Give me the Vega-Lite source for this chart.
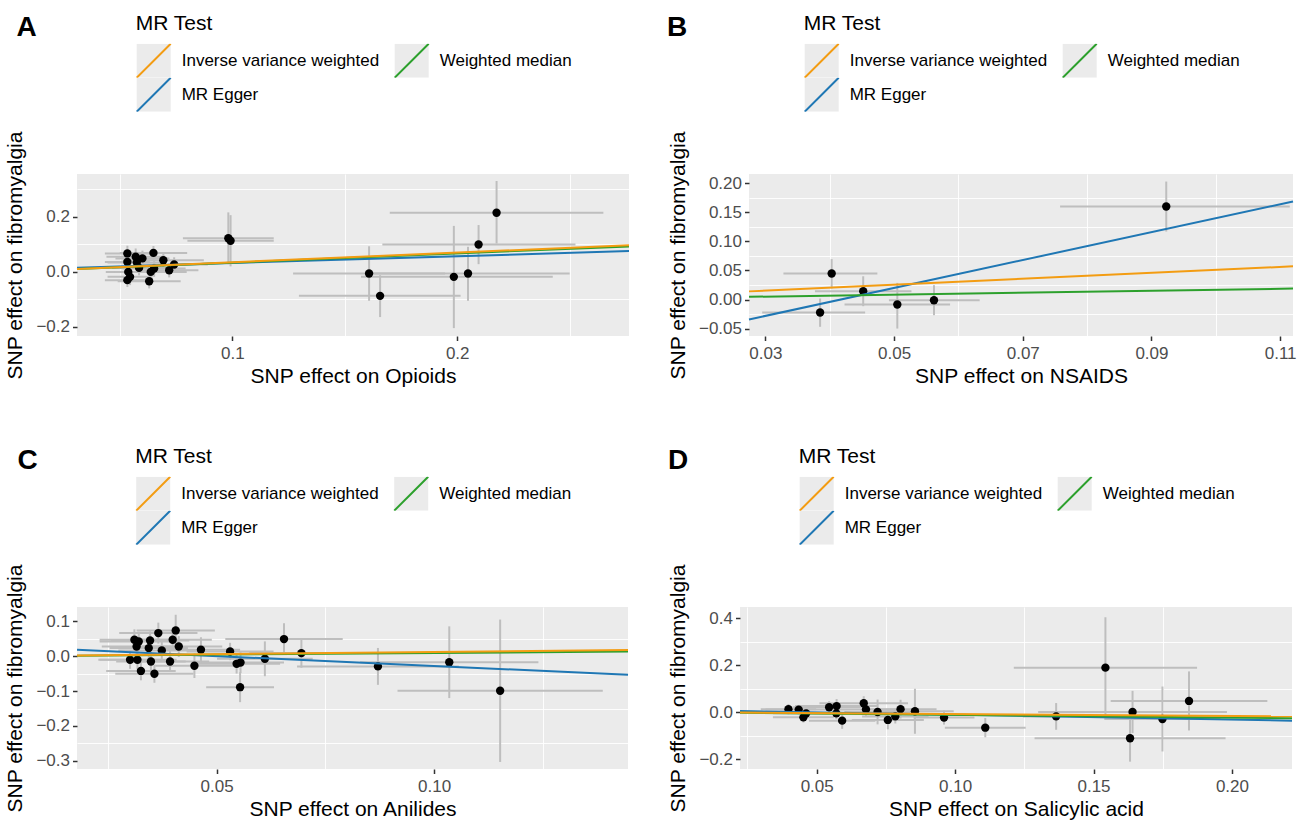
{
"$schema": "https://vega.github.io/schema/vega-lite/v6.json",
"background": "white",
"padding": {"left": 4, "top": 12, "right": 0, "bottom": 0},
"config": {
  "font": "Liberation Sans",
  "view": {"fill": "#EBEBEB", "stroke": null},
  "axis": {"labelFont": "Liberation Sans", "labelFontSize": 17, "labelColor": "#4D4D4D", "titleFont": "Liberation Sans", "titleFontSize": 21, "titleFontWeight": "normal", "titleColor": "#000000", "tickColor": "#333333", "tickSize": 4.5, "tickWidth": 1.5, "domain": false, "grid": true, "gridColor": "#FFFFFF", "gridWidth": 1.8, "labelPadding": 3},
  "axisX": {"titlePadding": 4, "labelPadding": 5},
  "axisY": {"titlePadding": 10},
  "legend": {"orient": "none", "direction": "horizontal", "columns": 2, "symbolSize": 1156, "clipHeight": 34, "labelFont": "Liberation Sans", "labelFontSize": 17, "labelColor": "#000000", "labelOffset": 10, "labelLimit": 400, "columnPadding": 14, "rowPadding": 0, "titleFont": "Liberation Sans", "titleFontSize": 21, "titleFontWeight": "normal", "titleColor": "#000000", "titlePadding": 10, "padding": 0, "symbolStrokeWidth": 2},
  "title": {"font": "Liberation Sans", "fontSize": 28, "fontWeight": "bold", "color": "#000000", "anchor": "start", "frame": "group", "offset": 0, "baseline": "alphabetic", "dy": 33}
},
"datasets": {
  "A_pts": [
    {"x": 0.0533, "y": 0.067, "xlo": 0.0433, "xhi": 0.0633, "ylo": 0.039, "yhi": 0.095},
    {"x": 0.0570, "y": 0.055, "xlo": 0.0440, "xhi": 0.0700, "ylo": 0.025, "yhi": 0.085},
    {"x": 0.0600, "y": 0.049, "xlo": 0.0480, "xhi": 0.0720, "ylo": 0.021, "yhi": 0.077},
    {"x": 0.0649, "y": 0.069, "xlo": 0.0499, "xhi": 0.0799, "ylo": 0.044, "yhi": 0.094},
    {"x": 0.0533, "y": 0.036, "xlo": 0.0433, "xhi": 0.0633, "ylo": 0.006, "yhi": 0.066},
    {"x": 0.0575, "y": 0.034, "xlo": 0.0445, "xhi": 0.0705, "ylo": 0.002, "yhi": 0.066},
    {"x": 0.0693, "y": 0.0425, "xlo": 0.0513, "xhi": 0.0873, "ylo": 0.0145, "yhi": 0.0705},
    {"x": 0.0741, "y": 0.027, "xlo": 0.0591, "xhi": 0.0891, "ylo": 0.001, "yhi": 0.053},
    {"x": 0.0652, "y": 0.012, "xlo": 0.0512, "xhi": 0.0792, "ylo": -0.018, "yhi": 0.042},
    {"x": 0.0585, "y": 0.0145, "xlo": 0.0465, "xhi": 0.0705, "ylo": -0.0125, "yhi": 0.0415},
    {"x": 0.0537, "y": 0.0, "xlo": 0.0437, "xhi": 0.0637, "ylo": -0.029, "yhi": 0.029},
    {"x": 0.0637, "y": 0.0, "xlo": 0.0477, "xhi": 0.0797, "ylo": -0.028, "yhi": 0.028},
    {"x": 0.0719, "y": 0.006, "xlo": 0.0589, "xhi": 0.0849, "ylo": -0.020, "yhi": 0.032},
    {"x": 0.0545, "y": -0.018, "xlo": 0.0445, "xhi": 0.0645, "ylo": -0.048, "yhi": 0.012},
    {"x": 0.0533, "y": -0.030, "xlo": 0.0433, "xhi": 0.0633, "ylo": -0.055, "yhi": -0.005},
    {"x": 0.0630, "y": -0.034, "xlo": 0.0490, "xhi": 0.0770, "ylo": -0.060, "yhi": -0.008},
    {"x": 0.0982, "y": 0.122, "xlo": 0.0780, "xhi": 0.1184, "ylo": 0.028, "yhi": 0.216},
    {"x": 0.0992, "y": 0.113, "xlo": 0.0800, "xhi": 0.1184, "ylo": 0.020, "yhi": 0.206},
    {"x": 0.2175, "y": 0.2145, "xlo": 0.170, "xhi": 0.265, "ylo": 0.103, "yhi": 0.330},
    {"x": 0.2095, "y": 0.0996, "xlo": 0.1667, "xhi": 0.2526, "ylo": 0.028, "yhi": 0.170},
    {"x": 0.1608, "y": -0.006, "xlo": 0.127, "xhi": 0.1946, "ylo": -0.105, "yhi": 0.093},
    {"x": 0.1657, "y": -0.087, "xlo": 0.1296, "xhi": 0.2015, "ylo": -0.164, "yhi": -0.012},
    {"x": 0.1985, "y": -0.018, "xlo": 0.1572, "xhi": 0.2425, "ylo": -0.204, "yhi": 0.167},
    {"x": 0.2048, "y": -0.006, "xlo": 0.1596, "xhi": 0.2500, "ylo": -0.105, "yhi": 0.091}
  ],
  "A_lines": [
    {"method": "MR Egger", "code": "Egger", "x1": 0.0309, "y1": 0.0154, "x2": 0.2764, "y2": 0.0755},
    {"method": "Weighted median", "code": "WM", "x1": 0.0309, "y1": 0.01035, "x2": 0.2764, "y2": 0.0926},
    {"method": "Inverse variance weighted", "code": "IVW", "x1": 0.0309, "y1": 0.0108, "x2": 0.2764, "y2": 0.0967}
  ],
  "B_pts": [
    {"x": 0.0923, "y": 0.160, "xlo": 0.0758, "xhi": 0.1115, "ylo": 0.117, "yhi": 0.203},
    {"x": 0.0403, "y": 0.0448, "xlo": 0.0328, "xhi": 0.0474, "ylo": 0.019, "yhi": 0.0695},
    {"x": 0.0452, "y": 0.0143, "xlo": 0.0377, "xhi": 0.0527, "ylo": -0.0115, "yhi": 0.040},
    {"x": 0.0385, "y": -0.0224, "xlo": 0.0295, "xhi": 0.0455, "ylo": -0.047, "yhi": 0.0017},
    {"x": 0.0505, "y": -0.0086, "xlo": 0.0423, "xhi": 0.0587, "ylo": -0.050, "yhi": 0.0286},
    {"x": 0.0562, "y": -0.0012, "xlo": 0.0492, "xhi": 0.0633, "ylo": -0.027, "yhi": 0.0247}
  ],
  "B_lines": [
    {"method": "MR Egger", "code": "Egger", "x1": 0.02745, "y1": -0.0343, "x2": 0.1120, "y2": 0.1688},
    {"method": "Weighted median", "code": "WM", "x1": 0.02745, "y1": 0.0046, "x2": 0.1120, "y2": 0.0188},
    {"method": "Inverse variance weighted", "code": "IVW", "x1": 0.02745, "y1": 0.0140, "x2": 0.1120, "y2": 0.0571}
  ],
  "C_pts": [
    {"x": 0.0311, "y": 0.0475, "xlo": 0.0231, "xhi": 0.0391, "ylo": 0.0175, "yhi": 0.0775},
    {"x": 0.0321, "y": 0.0426, "xlo": 0.0231, "xhi": 0.0411, "ylo": 0.0146, "yhi": 0.0706},
    {"x": 0.0316, "y": 0.028, "xlo": 0.0236, "xhi": 0.0396, "ylo": -0.002, "yhi": 0.058},
    {"x": 0.0301, "y": -0.010, "xlo": 0.0231, "xhi": 0.0371, "ylo": -0.036, "yhi": 0.016},
    {"x": 0.0318, "y": -0.010, "xlo": 0.0228, "xhi": 0.0408, "ylo": -0.038, "yhi": 0.018},
    {"x": 0.0326, "y": -0.042, "xlo": 0.0246, "xhi": 0.0406, "ylo": -0.069, "yhi": -0.015},
    {"x": 0.0347, "y": 0.0455, "xlo": 0.0257, "xhi": 0.0437, "ylo": 0.0195, "yhi": 0.0715},
    {"x": 0.0344, "y": 0.0236, "xlo": 0.0254, "xhi": 0.0434, "ylo": -0.0064, "yhi": 0.0536},
    {"x": 0.0349, "y": -0.015, "xlo": 0.0269, "xhi": 0.0429, "ylo": -0.043, "yhi": 0.013},
    {"x": 0.0357, "y": -0.050, "xlo": 0.0267, "xhi": 0.0447, "ylo": -0.076, "yhi": -0.024},
    {"x": 0.0366, "y": 0.0667, "xlo": 0.0276, "xhi": 0.0456, "ylo": 0.0367, "yhi": 0.0967},
    {"x": 0.0374, "y": 0.0167, "xlo": 0.0274, "xhi": 0.0474, "ylo": -0.0153, "yhi": 0.0487},
    {"x": 0.0393, "y": -0.015, "xlo": 0.0303, "xhi": 0.0483, "ylo": -0.045, "yhi": 0.015},
    {"x": 0.0399, "y": 0.0475, "xlo": 0.0309, "xhi": 0.0489, "ylo": 0.0195, "yhi": 0.0755},
    {"x": 0.0406, "y": 0.0743, "xlo": 0.0316, "xhi": 0.0496, "ylo": 0.0293, "yhi": 0.1193},
    {"x": 0.0413, "y": 0.028, "xlo": 0.0313, "xhi": 0.0513, "ylo": -0.002, "yhi": 0.058},
    {"x": 0.0449, "y": -0.0273, "xlo": 0.0359, "xhi": 0.0539, "ylo": -0.0623, "yhi": 0.0077},
    {"x": 0.0464, "y": 0.0187, "xlo": 0.0374, "xhi": 0.0554, "ylo": -0.0173, "yhi": 0.0547},
    {"x": 0.0531, "y": 0.0138, "xlo": 0.0431, "xhi": 0.0631, "ylo": -0.0112, "yhi": 0.0388},
    {"x": 0.0546, "y": -0.0216, "xlo": 0.0446, "xhi": 0.0646, "ylo": -0.0496, "yhi": 0.0064},
    {"x": 0.0555, "y": -0.018, "xlo": 0.0455, "xhi": 0.0655, "ylo": -0.048, "yhi": 0.012},
    {"x": 0.0554, "y": -0.0887, "xlo": 0.0476, "xhi": 0.0632, "ylo": -0.1317, "yhi": -0.0457},
    {"x": 0.0611, "y": -0.0072, "xlo": 0.0501, "xhi": 0.0721, "ylo": -0.0572, "yhi": 0.0428},
    {"x": 0.0655, "y": 0.0495, "xlo": 0.0520, "xhi": 0.0790, "ylo": 0.0040, "yhi": 0.0950},
    {"x": 0.0695, "y": 0.0092, "xlo": 0.0575, "xhi": 0.0815, "ylo": -0.0328, "yhi": 0.0512},
    {"x": 0.0871, "y": -0.029, "xlo": 0.0685, "xhi": 0.1057, "ylo": -0.082, "yhi": 0.024},
    {"x": 0.1035, "y": -0.017, "xlo": 0.0830, "xhi": 0.1240, "ylo": -0.120, "yhi": 0.086},
    {"x": 0.1152, "y": -0.099, "xlo": 0.0916, "xhi": 0.1388, "ylo": -0.3035, "yhi": 0.1055}
  ],
  "C_lines": [
    {"method": "MR Egger", "code": "Egger", "x1": 0.0179, "y1": 0.0187, "x2": 0.1446, "y2": -0.0530},
    {"method": "Weighted median", "code": "WM", "x1": 0.0179, "y1": 0.0017, "x2": 0.1446, "y2": 0.0137},
    {"method": "Inverse variance weighted", "code": "IVW", "x1": 0.0179, "y1": 0.0022, "x2": 0.1446, "y2": 0.0181}
  ],
  "D_pts": [
    {"x": 0.0398, "y": 0.013, "xlo": 0.0298, "xhi": 0.0498, "ylo": -0.009, "yhi": 0.035},
    {"x": 0.0435, "y": 0.011, "xlo": 0.0315, "xhi": 0.0555, "ylo": -0.009, "yhi": 0.031},
    {"x": 0.0452, "y": -0.022, "xlo": 0.0342, "xhi": 0.0562, "ylo": -0.044, "yhi": 0.000},
    {"x": 0.0462, "y": -0.005, "xlo": 0.0342, "xhi": 0.0582, "ylo": -0.025, "yhi": 0.015},
    {"x": 0.0545, "y": 0.021, "xlo": 0.0415, "xhi": 0.0675, "ylo": -0.005, "yhi": 0.047},
    {"x": 0.0572, "y": 0.026, "xlo": 0.0422, "xhi": 0.0722, "ylo": -0.004, "yhi": 0.056},
    {"x": 0.0571, "y": -0.005, "xlo": 0.0431, "xhi": 0.0711, "ylo": -0.030, "yhi": 0.020},
    {"x": 0.0592, "y": -0.036, "xlo": 0.0472, "xhi": 0.0712, "ylo": -0.071, "yhi": -0.001},
    {"x": 0.0670, "y": 0.038, "xlo": 0.0510, "xhi": 0.0830, "ylo": 0.008, "yhi": 0.068},
    {"x": 0.0678, "y": 0.012, "xlo": 0.0538, "xhi": 0.0818, "ylo": -0.016, "yhi": 0.040},
    {"x": 0.0720, "y": 0.001, "xlo": 0.0600, "xhi": 0.0840, "ylo": -0.052, "yhi": 0.054},
    {"x": 0.0757, "y": -0.033, "xlo": 0.0627, "xhi": 0.0887, "ylo": -0.073, "yhi": 0.007},
    {"x": 0.0784, "y": -0.018, "xlo": 0.0664, "xhi": 0.0904, "ylo": -0.048, "yhi": 0.012},
    {"x": 0.0803, "y": 0.013, "xlo": 0.0673, "xhi": 0.0933, "ylo": -0.027, "yhi": 0.053},
    {"x": 0.0855, "y": 0.004, "xlo": 0.0715, "xhi": 0.0995, "ylo": -0.092, "yhi": 0.100},
    {"x": 0.0960, "y": -0.023, "xlo": 0.0850, "xhi": 0.1070, "ylo": -0.053, "yhi": 0.007},
    {"x": 0.1109, "y": -0.066, "xlo": 0.0963, "xhi": 0.1255, "ylo": -0.107, "yhi": -0.025},
    {"x": 0.1365, "y": -0.018, "xlo": 0.1245, "xhi": 0.1485, "ylo": -0.075, "yhi": 0.039},
    {"x": 0.1543, "y": 0.190, "xlo": 0.1212, "xhi": 0.1874, "ylo": -0.025, "yhi": 0.405},
    {"x": 0.1641, "y": 0.001, "xlo": 0.1300, "xhi": 0.1982, "ylo": -0.089, "yhi": 0.091},
    {"x": 0.1632, "y": -0.111, "xlo": 0.1287, "xhi": 0.1977, "ylo": -0.211, "yhi": -0.011},
    {"x": 0.1749, "y": -0.029, "xlo": 0.1539, "xhi": 0.1959, "ylo": -0.1675, "yhi": 0.1095},
    {"x": 0.1845, "y": 0.048, "xlo": 0.1562, "xhi": 0.2128, "ylo": -0.078, "yhi": 0.174}
  ],
  "D_lines": [
    {"method": "MR Egger", "code": "Egger", "x1": 0.0223, "y1": 0.0050, "x2": 0.2217, "y2": -0.0360},
    {"method": "Weighted median", "code": "WM", "x1": 0.0223, "y1": -0.0026, "x2": 0.2217, "y2": -0.0255},
    {"method": "Inverse variance weighted", "code": "IVW", "x1": 0.0223, "y1": -0.0018, "x2": 0.2217, "y2": -0.0177}
  ]
},
"bounds": "flush",
"spacing": 433,
"resolve": {"scale": {"stroke": "independent", "fill": "independent"}},
"vconcat": [
 {
  "hconcat": [
   {
    "width": 552, "height": 162,
    "title": {"text": "A", "dx": -60.5},
    "resolve": {"axis": {"x": "independent", "y": "independent"}},
    "layer": [
     {"data": {"name": "A_pts"}, "mark": {"type": "rule", "color": "#BEBEBE", "strokeWidth": 2},
      "encoding": {
       "x": {"field": "xlo", "type": "quantitative", "axis": {"orient": "bottom", "values": [0.05, 0.15, 0.25], "gridWidth": 0.9, "labels": false, "ticks": false, "title": null}},
       "x2": {"field": "xhi"},
       "y": {"field": "y", "type": "quantitative", "axis": {"orient": "left", "values": [-0.1, 0.1, 0.3], "gridWidth": 0.9, "labels": false, "ticks": false, "title": null}}}},
     {"data": {"name": "A_pts"}, "mark": {"type": "rule", "color": "#BEBEBE", "strokeWidth": 2},
      "encoding": {
       "x": {"field": "x", "type": "quantitative", "axis": null},
       "y": {"field": "ylo", "type": "quantitative", "axis": null},
       "y2": {"field": "yhi"}}},
     {"data": {"name": "A_pts"}, "mark": {"type": "point", "filled": true, "color": "#000000", "size": 70, "opacity": 1, "strokeWidth": 0},
      "encoding": {
       "x": {"field": "x", "type": "quantitative", "scale": {"domain": [0.0309, 0.2764], "nice": false, "zero": false}, "axis": {"orient": "bottom", "values": [0.1, 0.2], "format": ".1f", "title": "SNP effect on Opioids"}},
       "y": {"field": "y", "type": "quantitative", "scale": {"domain": [-0.2327, 0.3553], "nice": false, "zero": false}, "axis": {"orient": "left", "values": [-0.2, 0, 0.2], "format": ".1f", "title": "SNP effect on fibromyalgia"}}}},
     {"data": {"name": "A_lines"}, "mark": {"type": "rect"},
      "encoding": {
       "x": {"field": "x1", "type": "quantitative", "axis": null}, "x2": {"field": "x1"},
       "y": {"field": "y1", "type": "quantitative", "axis": null}, "y2": {"field": "y1"},
       "fill": {"field": "code", "type": "nominal", "scale": {"domain": ["IVW", "WM", "Egger"], "range": ["#EBEBEB", "#EBEBEB", "#EBEBEB"]},
        "legend": {"title": "MR Test", "orient": "none", "legendX": 58.7, "legendY": -161.3, "symbolType": "M-1,-1L1,-1L1,1L-1,1Z", "symbolStrokeColor": "transparent", "labelOpacity": 0, "titleOpacity": 0, "labelExpr": "datum.label == 'IVW' ? 'Inverse variance weighted' : datum.label == 'WM' ? 'Weighted median' : 'MR Egger'"}}}},
     {"data": {"name": "A_lines"}, "mark": {"type": "rule", "strokeWidth": 2},
      "encoding": {
       "x": {"field": "x1", "type": "quantitative", "axis": null}, "x2": {"field": "x2"},
       "y": {"field": "y1", "type": "quantitative", "axis": null}, "y2": {"field": "y2"},
       "stroke": {"field": "method", "type": "nominal", "scale": {"domain": ["Inverse variance weighted", "Weighted median", "MR Egger"], "range": ["#F39C12", "#2CA02C", "#1F77B4"]},
        "legend": {"title": "MR Test", "orient": "none", "legendX": 58.7, "legendY": -161.3, "symbolType": "M-1,1L1,-1", "symbolFillColor": "transparent", "symbolStrokeWidth": 2}}}}
    ]
   },
   {
    "width": 544, "height": 162,
    "title": {"text": "B", "dx": -82},
    "resolve": {"axis": {"x": "independent", "y": "independent"}},
    "layer": [
     {"data": {"name": "B_pts"}, "mark": {"type": "rule", "color": "#BEBEBE", "strokeWidth": 2},
      "encoding": {
       "x": {"field": "xlo", "type": "quantitative", "axis": {"orient": "bottom", "values": [0.04, 0.06, 0.08, 0.10], "gridWidth": 0.9, "labels": false, "ticks": false, "title": null}},
       "x2": {"field": "xhi"},
       "y": {"field": "y", "type": "quantitative", "axis": {"orient": "left", "values": [-0.025, 0.025, 0.075, 0.125, 0.175], "gridWidth": 0.9, "labels": false, "ticks": false, "title": null}}}},
     {"data": {"name": "B_pts"}, "mark": {"type": "rule", "color": "#BEBEBE", "strokeWidth": 2},
      "encoding": {
       "x": {"field": "x", "type": "quantitative", "axis": null},
       "y": {"field": "ylo", "type": "quantitative", "axis": null},
       "y2": {"field": "yhi"}}},
     {"data": {"name": "B_pts"}, "mark": {"type": "point", "filled": true, "color": "#000000", "size": 70, "opacity": 1, "strokeWidth": 0},
      "encoding": {
       "x": {"field": "x", "type": "quantitative", "scale": {"domain": [0.02745, 0.1120], "nice": false, "zero": false}, "axis": {"orient": "bottom", "values": [0.03, 0.05, 0.07, 0.09, 0.11], "format": ".2f", "title": "SNP effect on NSAIDS"}},
       "y": {"field": "y", "type": "quantitative", "scale": {"domain": [-0.0628, 0.216], "nice": false, "zero": false}, "axis": {"orient": "left", "values": [-0.05, 0, 0.05, 0.1, 0.15, 0.2], "format": ".2f", "title": "SNP effect on fibromyalgia"}}}},
     {"data": {"name": "B_lines"}, "mark": {"type": "rect"},
      "encoding": {
       "x": {"field": "x1", "type": "quantitative", "axis": null}, "x2": {"field": "x1"},
       "y": {"field": "y1", "type": "quantitative", "axis": null}, "y2": {"field": "y1"},
       "fill": {"field": "code", "type": "nominal", "scale": {"domain": ["IVW", "WM", "Egger"], "range": ["#EBEBEB", "#EBEBEB", "#EBEBEB"]},
        "legend": {"title": "MR Test", "orient": "none", "legendX": 54.7, "legendY": -161.3, "symbolType": "M-1,-1L1,-1L1,1L-1,1Z", "symbolStrokeColor": "transparent", "labelOpacity": 0, "titleOpacity": 0, "labelExpr": "datum.label == 'IVW' ? 'Inverse variance weighted' : datum.label == 'WM' ? 'Weighted median' : 'MR Egger'"}}}},
     {"data": {"name": "B_lines"}, "mark": {"type": "rule", "strokeWidth": 2},
      "encoding": {
       "x": {"field": "x1", "type": "quantitative", "axis": null}, "x2": {"field": "x2"},
       "y": {"field": "y1", "type": "quantitative", "axis": null}, "y2": {"field": "y2"},
       "stroke": {"field": "method", "type": "nominal", "scale": {"domain": ["Inverse variance weighted", "Weighted median", "MR Egger"], "range": ["#F39C12", "#2CA02C", "#1F77B4"]},
        "legend": {"title": "MR Test", "orient": "none", "legendX": 54.7, "legendY": -161.3, "symbolType": "M-1,1L1,-1", "symbolFillColor": "transparent", "symbolStrokeWidth": 2}}}}
    ]
   }
  ],
  "spacing": 120,
  "bounds": "flush",
  "resolve": {"scale": {"stroke": "independent", "fill": "independent"}}
 },
 {
  "hconcat": [
   {
    "width": 551, "height": 162,
    "title": {"text": "C", "dx": -59.5},
    "resolve": {"axis": {"x": "independent", "y": "independent"}},
    "layer": [
     {"data": {"name": "C_pts"}, "mark": {"type": "rule", "color": "#BEBEBE", "strokeWidth": 2},
      "encoding": {
       "x": {"field": "xlo", "type": "quantitative", "axis": {"orient": "bottom", "values": [0.025, 0.075, 0.125], "gridWidth": 0.9, "labels": false, "ticks": false, "title": null}},
       "x2": {"field": "xhi"},
       "y": {"field": "y", "type": "quantitative", "axis": {"orient": "left", "values": [-0.25, -0.15, -0.05, 0.05], "gridWidth": 0.9, "labels": false, "ticks": false, "title": null}}}},
     {"data": {"name": "C_pts"}, "mark": {"type": "rule", "color": "#BEBEBE", "strokeWidth": 2},
      "encoding": {
       "x": {"field": "x", "type": "quantitative", "axis": null},
       "y": {"field": "ylo", "type": "quantitative", "axis": null},
       "y2": {"field": "yhi"}}},
     {"data": {"name": "C_pts"}, "mark": {"type": "point", "filled": true, "color": "#000000", "size": 70, "opacity": 1, "strokeWidth": 0},
      "encoding": {
       "x": {"field": "x", "type": "quantitative", "scale": {"domain": [0.0179, 0.1446], "nice": false, "zero": false}, "axis": {"orient": "bottom", "values": [0.05, 0.1], "format": ".2f", "title": "SNP effect on Anilides"}},
       "y": {"field": "y", "type": "quantitative", "scale": {"domain": [-0.3237, 0.1416], "nice": false, "zero": false}, "axis": {"orient": "left", "values": [-0.3, -0.2, -0.1, 0, 0.1], "format": ".1f", "title": "SNP effect on fibromyalgia"}}}},
     {"data": {"name": "C_lines"}, "mark": {"type": "rect"},
      "encoding": {
       "x": {"field": "x1", "type": "quantitative", "axis": null}, "x2": {"field": "x1"},
       "y": {"field": "y1", "type": "quantitative", "axis": null}, "y2": {"field": "y1"},
       "fill": {"field": "code", "type": "nominal", "scale": {"domain": ["IVW", "WM", "Egger"], "range": ["#EBEBEB", "#EBEBEB", "#EBEBEB"]},
        "legend": {"title": "MR Test", "orient": "none", "legendX": 58.2, "legendY": -161.3, "symbolType": "M-1,-1L1,-1L1,1L-1,1Z", "symbolStrokeColor": "transparent", "labelOpacity": 0, "titleOpacity": 0, "labelExpr": "datum.label == 'IVW' ? 'Inverse variance weighted' : datum.label == 'WM' ? 'Weighted median' : 'MR Egger'"}}}},
     {"data": {"name": "C_lines"}, "mark": {"type": "rule", "strokeWidth": 2},
      "encoding": {
       "x": {"field": "x1", "type": "quantitative", "axis": null}, "x2": {"field": "x2"},
       "y": {"field": "y1", "type": "quantitative", "axis": null}, "y2": {"field": "y2"},
       "stroke": {"field": "method", "type": "nominal", "scale": {"domain": ["Inverse variance weighted", "Weighted median", "MR Egger"], "range": ["#F39C12", "#2CA02C", "#1F77B4"]},
        "legend": {"title": "MR Test", "orient": "none", "legendX": 58.2, "legendY": -161.3, "symbolType": "M-1,1L1,-1", "symbolFillColor": "transparent", "symbolStrokeWidth": 2}}}}
    ]
   },
   {
    "width": 552, "height": 162,
    "title": {"text": "D", "dx": -72},
    "resolve": {"axis": {"x": "independent", "y": "independent"}},
    "layer": [
     {"data": {"name": "D_pts"}, "mark": {"type": "rule", "color": "#BEBEBE", "strokeWidth": 2},
      "encoding": {
       "x": {"field": "xlo", "type": "quantitative", "axis": {"orient": "bottom", "values": [0.025, 0.075, 0.125, 0.175], "gridWidth": 0.9, "labels": false, "ticks": false, "title": null}},
       "x2": {"field": "xhi"},
       "y": {"field": "y", "type": "quantitative", "axis": {"orient": "left", "values": [-0.1, 0.1, 0.3], "gridWidth": 0.9, "labels": false, "ticks": false, "title": null}}}},
     {"data": {"name": "D_pts"}, "mark": {"type": "rule", "color": "#BEBEBE", "strokeWidth": 2},
      "encoding": {
       "x": {"field": "x", "type": "quantitative", "axis": null},
       "y": {"field": "ylo", "type": "quantitative", "axis": null},
       "y2": {"field": "yhi"}}},
     {"data": {"name": "D_pts"}, "mark": {"type": "point", "filled": true, "color": "#000000", "size": 70, "opacity": 1, "strokeWidth": 0},
      "encoding": {
       "x": {"field": "x", "type": "quantitative", "scale": {"domain": [0.0223, 0.2217], "nice": false, "zero": false}, "axis": {"orient": "bottom", "values": [0.05, 0.1, 0.15, 0.2], "format": ".2f", "title": "SNP effect on Salicylic acid"}},
       "y": {"field": "y", "type": "quantitative", "scale": {"domain": [-0.2423, 0.4487], "nice": false, "zero": false}, "axis": {"orient": "left", "values": [-0.2, 0, 0.2, 0.4], "format": ".1f", "title": "SNP effect on fibromyalgia"}}}},
     {"data": {"name": "D_lines"}, "mark": {"type": "rect"},
      "encoding": {
       "x": {"field": "x1", "type": "quantitative", "axis": null}, "x2": {"field": "x1"},
       "y": {"field": "y1", "type": "quantitative", "axis": null}, "y2": {"field": "y1"},
       "fill": {"field": "code", "type": "nominal", "scale": {"domain": ["IVW", "WM", "Egger"], "range": ["#EBEBEB", "#EBEBEB", "#EBEBEB"]},
        "legend": {"title": "MR Test", "orient": "none", "legendX": 58.7, "legendY": -161.3, "symbolType": "M-1,-1L1,-1L1,1L-1,1Z", "symbolStrokeColor": "transparent", "labelOpacity": 0, "titleOpacity": 0, "labelExpr": "datum.label == 'IVW' ? 'Inverse variance weighted' : datum.label == 'WM' ? 'Weighted median' : 'MR Egger'"}}}},
     {"data": {"name": "D_lines"}, "mark": {"type": "rule", "strokeWidth": 2},
      "encoding": {
       "x": {"field": "x1", "type": "quantitative", "axis": null}, "x2": {"field": "x2"},
       "y": {"field": "y1", "type": "quantitative", "axis": null}, "y2": {"field": "y2"},
       "stroke": {"field": "method", "type": "nominal", "scale": {"domain": ["Inverse variance weighted", "Weighted median", "MR Egger"], "range": ["#F39C12", "#2CA02C", "#1F77B4"]},
        "legend": {"title": "MR Test", "orient": "none", "legendX": 58.7, "legendY": -161.3, "symbolType": "M-1,1L1,-1", "symbolFillColor": "transparent", "symbolStrokeWidth": 2}}}}
    ]
   }
  ],
  "spacing": 112,
  "bounds": "flush",
  "resolve": {"scale": {"stroke": "independent", "fill": "independent"}}
 }
]
}
